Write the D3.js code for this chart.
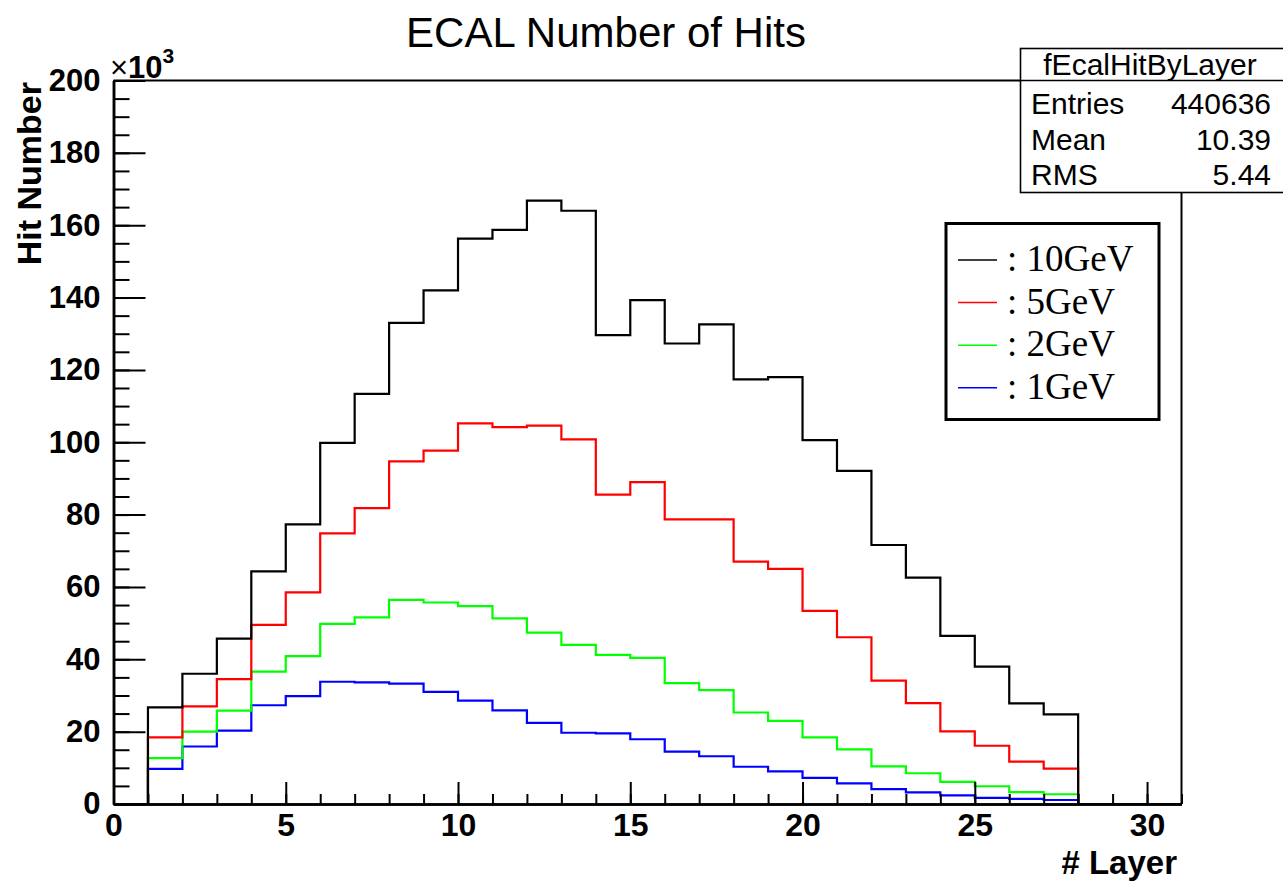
<!DOCTYPE html>
<html>
<head>
<meta charset="utf-8">
<script src="https://cdn.jsdelivr.net/npm/d3@7"></script>
<style>
  html, body { margin: 0; padding: 0; background: #fff; }
  svg { display: block; }
</style>
</head>
<body>
<svg id="chart" width="1283" height="882"></svg>
<script>
// ---- data (hits in units of 10^3, per layer bin [i, i+1)) ----
const layers = d3.range(0, 31); // lower bin edges 0..30
const hits10GeV = [0, 26.7, 36.0, 45.7, 64.3, 77.3, 99.8, 113.4, 133.0, 142.0, 156.3, 158.7, 166.8, 164.0, 129.6, 139.3, 127.3, 132.6, 117.4, 118.0, 100.6, 92.1, 71.6, 62.6, 46.5, 38.0, 27.8, 24.8, 0, 0, 0];
const hits5GeV  = [0, 18.4, 27.0, 34.5, 49.5, 58.5, 74.8, 81.8, 94.7, 97.7, 105.2, 104.2, 104.6, 100.8, 85.5, 89.0, 78.7, 78.7, 67.0, 65.0, 53.4, 46.1, 34.1, 27.9, 20.1, 16.1, 11.7, 9.8, 0, 0, 0];
const hits2GeV  = [0, 12.7, 20.0, 25.8, 36.6, 40.9, 49.8, 51.6, 56.4, 55.7, 54.7, 51.3, 47.4, 44.0, 41.2, 40.4, 33.4, 31.5, 25.3, 23.0, 18.4, 15.1, 10.4, 8.5, 6.1, 4.9, 3.3, 2.7, 0, 0, 0];
const hits1GeV  = [0, 9.7, 15.9, 20.3, 27.3, 29.8, 33.8, 33.6, 33.3, 31.0, 28.6, 25.9, 22.4, 19.7, 19.5, 17.9, 14.5, 13.2, 10.3, 9.0, 7.2, 5.7, 4.1, 3.2, 2.4, 1.7, 1.4, 1.1, 0, 0, 0];
const seriesNames = [": 10GeV", ": 5GeV", ": 2GeV", ": 1GeV"];
const seriesColors = ["#000000", "#ff0000", "#00ff00", "#0000ff"];
const xMajorTicks = [0, 5, 10, 15, 20, 25, 30];
const yMajorTicks = [0, 20, 40, 60, 80, 100, 120, 140, 160, 180, 200];
const statsTitle = "fEcalHitByLayer";
const statsLabels = ["Entries", "Mean", "RMS"];
const statsValues = ["440636", "10.39", "5.44"];

const allSeries = [hits10GeV, hits5GeV, hits2GeV, hits1GeV];

const svg = d3.select("#chart");
const x = d3.scaleLinear().domain([0, 31]).range([113.5, 1181.5]);
const y = d3.scaleLinear().domain([0, 200]).range([804, 80.5]);

const fontAxis = "'Liberation Sans', Arial, sans-serif";

// title
svg.append("text").attr("x", 606).attr("y", 47)
  .attr("text-anchor", "middle")
  .style("font-family", fontAxis)
  .style("font-size", "42px").text("ECAL Number of Hits");

// frame (top + right)
svg.append("path")
  .attr("d", `M${x(0)},${y(200)}H${x(31)}V${y(0)}`)
  .attr("fill", "none").attr("stroke", "#000").attr("stroke-width", 2);

// histograms (drawn 1GeV first, 10GeV last)
const stepLine = d3.line().curve(d3.curveStepAfter).x(d => x(d[0])).y(d => y(d[1]));
[3, 2, 1, 0].forEach(si => {
  const vals = allSeries[si];
  const pts = layers.map((l, i) => [l, vals[i]]);
  pts.push([31, vals[vals.length - 1]]);
  const full = [[0, 0], ...pts, [31, 0]];
  svg.append("path")
    .attr("d", stepLine(full))
    .attr("fill", "none")
    .attr("stroke", seriesColors[si])
    .attr("stroke-width", 2.2);
});

// x axis minor ticks
const gxMinor = svg.append("g").attr("transform", `translate(0,${y(0)})`)
  .call(d3.axisBottom(x).tickValues(d3.range(0, 32)).tickSize(-10).tickSizeOuter(0).tickFormat(""));
// x axis major
const gx = svg.append("g").attr("transform", `translate(0,${y(0)})`)
  .call(d3.axisBottom(x).tickValues(xMajorTicks).tickSize(-22).tickSizeOuter(0).tickPadding(9));
[gxMinor, gx].forEach(g => {
  g.selectAll("line").attr("stroke", "#000").attr("stroke-width", 2);
  g.select(".domain").attr("stroke", "#000").attr("stroke-width", 2.5);
});
gx.selectAll("text").style("font-family", fontAxis).style("font-size", "32px")
  .style("font-weight", "bold").attr("fill", "#000");

// y axis minor ticks
const gyMinor = svg.append("g").attr("transform", `translate(${x(0)},0)`)
  .call(d3.axisLeft(y).tickValues(d3.range(0, 201, 5)).tickSize(-16).tickSizeOuter(0).tickFormat(""));
const gy = svg.append("g").attr("transform", `translate(${x(0)},0)`)
  .call(d3.axisLeft(y).tickValues(yMajorTicks).tickSize(-32).tickSizeOuter(0).tickPadding(13));
[gyMinor, gy].forEach(g => {
  g.selectAll("line").attr("stroke", "#000").attr("stroke-width", 2);
  g.select(".domain").attr("stroke", "#000").attr("stroke-width", 2.5);
});
gy.selectAll("text").style("font-family", fontAxis).style("font-size", "31px")
  .style("font-weight", "bold").attr("fill", "#000");

// x10^3 multiplier
const mult = svg.append("text").attr("x", 110).attr("y", 78)
  .style("font-family", fontAxis).style("font-size", "31px").style("font-weight", "bold");
mult.append("tspan").text("\u00d7").style("font-weight", "normal");
mult.append("tspan").text("10");
mult.append("tspan").text("3").attr("dy", -15).style("font-size", "21px");

// axis titles
svg.append("text").attr("x", 1177).attr("y", 874).attr("text-anchor", "end")
  .style("font-family", fontAxis).style("font-size", "33px").style("font-weight", "bold")
  .text("# Layer");
svg.append("text").attr("transform", "translate(41,82) rotate(-90)").attr("text-anchor", "end")
  .style("font-family", fontAxis).style("font-size", "34px").style("font-weight", "bold")
  .text("Hit Number");

// stats box
const sb = svg.append("g");
sb.append("rect").attr("x", 1020.5).attr("y", 48.5).attr("width", 270).attr("height", 144)
  .attr("fill", "#fff").attr("stroke", "#000").attr("stroke-width", 1.6);
sb.append("line").attr("x1", 1020.5).attr("x2", 1290).attr("y1", 80.5).attr("y2", 80.5)
  .attr("stroke", "#000").attr("stroke-width", 1.6);
sb.append("text").attr("x", 1150).attr("y", 75).attr("text-anchor", "middle")
  .style("font-family", fontAxis).style("font-size", "30px").text(statsTitle);
statsLabels.forEach((lab, i) => {
  const by = 114 + i * 35.5;
  sb.append("text").attr("x", 1031).attr("y", by)
    .style("font-family", fontAxis).style("font-size", "30px").text(lab);
  sb.append("text").attr("x", 1271).attr("y", by).attr("text-anchor", "end")
    .style("font-family", fontAxis).style("font-size", "30px").text(statsValues[i]);
});

// legend
const lg = svg.append("g");
lg.append("rect").attr("x", 946).attr("y", 223.5).attr("width", 213).attr("height", 196)
  .attr("fill", "#fff").attr("stroke", "#000").attr("stroke-width", 3);
seriesNames.forEach((name, i) => {
  const ly = 260 + i * 42.6;
  lg.append("line").attr("x1", 958).attr("x2", 997).attr("y1", ly).attr("y2", ly)
    .attr("stroke", seriesColors[i]).attr("stroke-width", 1.5);
  lg.append("text").attr("x", 1007).attr("y", ly + 11)
    .style("font-family", "'Liberation Serif', 'Times New Roman', serif")
    .style("font-size", "37px").text(name);
});
</script>
</body>
</html>
